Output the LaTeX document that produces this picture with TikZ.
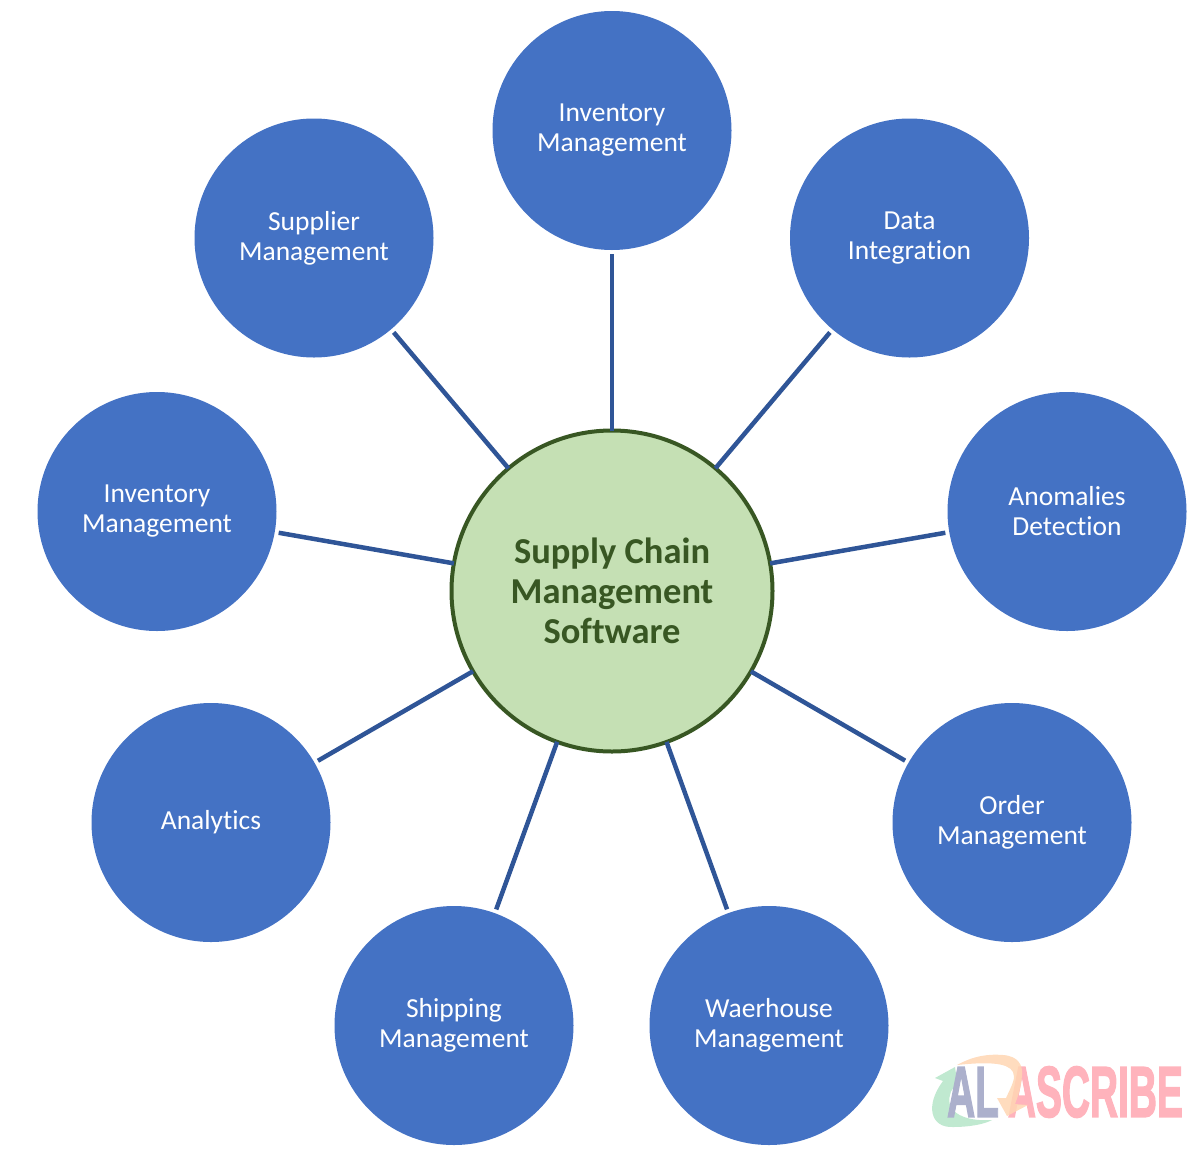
\documentclass[tikz,border=0pt]{standalone}
\usepackage{fontspec}
\setmainfont[Ligatures=NoCommon]{Carlito}
\newfontfamily\wmfont[FakeBold=2.5]{Liberation Sans}
\definecolor{spoke}{HTML}{4472C4}
\definecolor{spokeline}{HTML}{2F5597}
\definecolor{hubfill}{HTML}{C5E0B4}
\definecolor{hubdark}{HTML}{385723}
\definecolor{wmpink}{HTML}{FFB3BC}
\definecolor{wmlilac}{HTML}{ACB0CC}
\definecolor{wmgreen}{HTML}{B5E5C8}
\definecolor{wmorange}{HTML}{FFD6B3}
\tikzset{
  spokenode/.style={circle,fill=spoke,text=white,minimum size=239pt,inner sep=0pt,outer sep=4pt,align=center,font=\fontsize{27.5}{30}\selectfont},
  hubnode/.style={circle,fill=hubfill,draw=hubdark,line width=4pt,text=hubdark,minimum size=321pt,inner sep=0pt,outer sep=0pt,align=center,font=\fontsize{36.5}{40}\selectfont\bfseries},
  link/.style={draw=spokeline,line width=4.5pt},
  wmtext/.style={inner sep=0pt,font=\wmfont\bfseries\fontsize{72}{72}\selectfont}
}
\begin{document}
\begin{tikzpicture}[x=1pt,y=-1pt]
\useasboundingbox (0,0) rectangle (1200,1149);
\node[hubnode] (hub) at (612,591) {Supply Chain\\Management\\Software};
\node[spokenode] (n1) at (612,130.5) {Inventory\\Management};
\node[spokenode] (n2) at (909.5,238) {Data\\Integration};
\node[spokenode] (n3) at (1067,511.5) {Anomalies\\Detection};
\node[spokenode] (n4) at (1012,822.5) {Order\\Management};
\node[spokenode] (n5) at (769,1025.5) {Waerhouse\\Management};
\node[spokenode] (n6) at (454,1025.5) {Shipping\\Management};
\node[spokenode] (n7) at (211,822.5) {Analytics};
\node[spokenode] (n8) at (157,511.5) {Inventory\\Management};
\node[spokenode] (n9) at (314,238) {Supplier\\Management};
\foreach \n in {n1,n2,n3,n4,n5,n6,n7,n8,n9} \draw[link] (hub) -- (\n);
% watermark
\node[wmtext,text=wmpink,anchor=east,xscale=.54] (wb) at (1183,1092) {ASCRIBE};
\fill[wmgreen,opacity=.85] (955,1067) -- (935,1078) -- (943,1081) .. controls (925,1105) and (930,1128) .. (953,1127) .. controls (970,1127) and (985,1124) .. (992,1120) .. controls (965,1122) and (945,1112) .. (950,1095) .. controls (951,1090) and (953,1087) .. (958,1087) -- cycle;
\fill[wmorange,opacity=.85] (957,1065) .. controls (975,1055) and (990,1054) .. (1003,1055) .. controls (1018,1056) and (1023,1065) .. (1022,1075) .. controls (1021,1088) and (1018,1096) .. (1015,1104) -- (1028,1105) -- (1007,1116) -- (997,1098) -- (1006,1098) .. controls (1012,1085) and (1016,1078) .. (1013,1072) .. controls (1008,1062) and (985,1062) .. cycle;
\node[wmtext,text=wmlilac,anchor=west,xscale=.54] (wa) at (947,1092) {AL};
\end{tikzpicture}
\end{document}
